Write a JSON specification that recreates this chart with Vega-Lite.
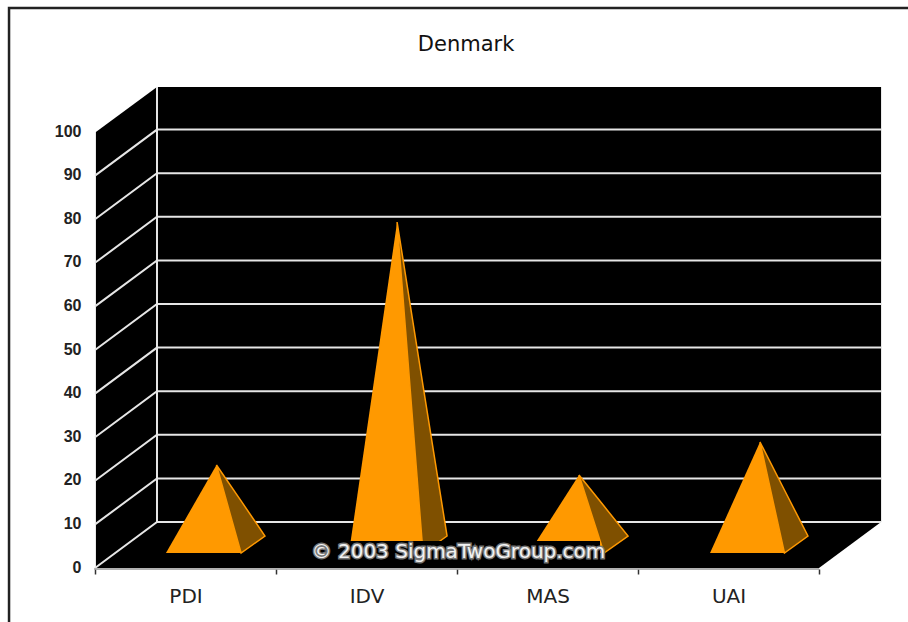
{
"$schema":"https://vega.github.io/schema/vega-lite/v6.json",
"width":908,"height":622,"padding":0,
"autosize":"none",
"background":"white",
"config":{"view":{"stroke":null}},
"layer":[
{"data":{"values":[{"x":0.005,"top":100,"bottom":0},{"x":0.3425,"top":110.3,"bottom":0},{"x":4.0,"top":110.3,"bottom":0},{"x":4.343,"top":110.3,"bottom":10.55}]},
 "mark":{"type":"area","color":"black"},
 "encoding":{
  "x":{"field":"x","type":"quantitative","scale":{"domain":[-0.5249,4.4917],"nice":false,"zero":false},
    "axis":{"title":null,"orient":"bottom","offset":-53,"values":[0,1,2,3,4],"grid":false,"domain":false,"ticks":true,"tickSize":5,"tickColor":"#333","tickWidth":1.5,
      "labelOffset":90.5,"labelPadding":12,"labelFont":"DejaVu Sans","labelFontSize":20,"labelColor":"#222","labelAlign":"center","labelOverlap":false,"labelBound":false,"labelFlush":false,
      "labelExpr":"datum.value==0?'PDI':datum.value==1?'IDV':datum.value==2?'MAS':datum.value==3?'UAI':''"}},
  "y":{"field":"top","type":"quantitative","scale":{"domain":[-12.385,130.28],"nice":false,"zero":false},
    "axis":{"title":null,"orient":"left","offset":-95,"values":[0,10,20,30,40,50,60,70,80,90,100],"grid":false,"domain":false,"ticks":false,"labelPadding":14,"labelOffset":-1,"labelFont":"Liberation Sans","labelFontWeight":"bold","labelFontSize":16,"labelColor":"#222"}},
  "y2":{"field":"bottom"}}},
{"data":{"values":[
 {"g":"v0","i":0,"x":0,"y":0},{"g":"v0","i":1,"x":0.3425,"y":10.55},{"g":"v0","i":2,"x":4.343,"y":10.55},
 {"g":"v10","i":0,"x":0,"y":10},{"g":"v10","i":1,"x":0.3425,"y":20.55},{"g":"v10","i":2,"x":4.343,"y":20.55},
 {"g":"v20","i":0,"x":0,"y":20},{"g":"v20","i":1,"x":0.3425,"y":30.55},{"g":"v20","i":2,"x":4.343,"y":30.55},
 {"g":"v30","i":0,"x":0,"y":30},{"g":"v30","i":1,"x":0.3425,"y":40.55},{"g":"v30","i":2,"x":4.343,"y":40.55},
 {"g":"v40","i":0,"x":0,"y":40},{"g":"v40","i":1,"x":0.3425,"y":50.55},{"g":"v40","i":2,"x":4.343,"y":50.55},
 {"g":"v50","i":0,"x":0,"y":50},{"g":"v50","i":1,"x":0.3425,"y":60.55},{"g":"v50","i":2,"x":4.343,"y":60.55},
 {"g":"v60","i":0,"x":0,"y":60},{"g":"v60","i":1,"x":0.3425,"y":70.55},{"g":"v60","i":2,"x":4.343,"y":70.55},
 {"g":"v70","i":0,"x":0,"y":70},{"g":"v70","i":1,"x":0.3425,"y":80.55},{"g":"v70","i":2,"x":4.343,"y":80.55},
 {"g":"v80","i":0,"x":0,"y":80},{"g":"v80","i":1,"x":0.3425,"y":90.55},{"g":"v80","i":2,"x":4.343,"y":90.55},
 {"g":"v90","i":0,"x":0,"y":90},{"g":"v90","i":1,"x":0.3425,"y":100.55},{"g":"v90","i":2,"x":4.343,"y":100.55},
 {"g":"wall","i":0,"x":0.3425,"y":10.55},{"g":"wall","i":1,"x":0.3425,"y":110.3}
 ]},
 "mark":{"type":"line","color":"#e6e6e6","strokeWidth":2},
 "encoding":{"x":{"field":"x","type":"quantitative"},"y":{"field":"y","type":"quantitative"},"detail":{"field":"g"},"order":{"field":"i"}}},
{"data":{"values":[{"g":"axis","i":0,"x":-0.005,"y":-0.25},{"g":"axis","i":1,"x":4.0,"y":-0.25}]},
 "mark":{"type":"line","color":"#999","strokeWidth":1.5},
 "encoding":{"x":{"field":"x","type":"quantitative"},"y":{"field":"y","type":"quantitative"},"detail":{"field":"g"},"order":{"field":"i"}}},
{"data":{"values":[{"g":"frame","i":0,"x":-0.475,"y":-12.385},{"g":"frame","i":1,"x":-0.475,"y":128.44},{"g":"frame","i":2,"x":4.4917,"y":128.44}]},
 "mark":{"type":"line","color":"#222","strokeWidth":2.5},
 "encoding":{"x":{"field":"x","type":"quantitative"},"y":{"field":"y","type":"quantitative"},"detail":{"field":"g"},"order":{"field":"i"}}},
{"data":{"values":[
 {"c":"PDI","x":0.671,"y":23.62,"y2":23.62},{"c":"PDI","x":0.807,"y":15.39,"y2":3.44},{"c":"PDI","x":0.939,"y":7.34,"y2":7.34},
 {"c":"IDV","x":1.669,"y":79.36,"y2":79.36},{"c":"IDV","x":1.812,"y":41.9,"y2":3.44},{"c":"IDV","x":1.945,"y":7.34,"y2":7.34},
 {"c":"MAS","x":2.674,"y":21.33,"y2":21.33},{"c":"MAS","x":2.812,"y":14.2,"y2":3.44},{"c":"MAS","x":2.945,"y":7.34,"y2":7.34},
 {"c":"UAI","x":3.674,"y":28.9,"y2":28.9},{"c":"UAI","x":3.809,"y":17.89,"y2":3.44},{"c":"UAI","x":3.939,"y":7.34,"y2":7.34}
 ]},
 "mark":{"type":"area","color":"#7f5000","stroke":"#ff9900","strokeWidth":1.5},
 "encoding":{"x":{"field":"x","type":"quantitative"},"y":{"field":"y","type":"quantitative"},"y2":{"field":"y2"},"detail":{"field":"c"}}},
{"data":{"values":[
 {"c":"PDI","x":0.392,"y":3.44,"y2":3.44},{"c":"PDI","x":0.671,"y":23.62,"y2":3.44},{"c":"PDI","x":0.807,"y":3.44,"y2":3.44},
 {"c":"IDV","x":1.403,"y":3.44,"y2":3.44},{"c":"IDV","x":1.669,"y":79.36,"y2":3.44},{"c":"IDV","x":1.812,"y":3.44,"y2":3.44},
 {"c":"MAS","x":2.398,"y":3.44,"y2":3.44},{"c":"MAS","x":2.674,"y":21.33,"y2":3.44},{"c":"MAS","x":2.812,"y":3.44,"y2":3.44},
 {"c":"UAI","x":3.398,"y":3.44,"y2":3.44},{"c":"UAI","x":3.674,"y":28.9,"y2":3.44},{"c":"UAI","x":3.809,"y":3.44,"y2":3.44}
 ]},
 "mark":{"type":"area","color":"#ff9900"},
 "encoding":{"x":{"field":"x","type":"quantitative"},"y":{"field":"y","type":"quantitative"},"y2":{"field":"y2"},"detail":{"field":"c"}}},
{"data":{"values":[{"x":1.16,"x2":2.79,"y":6.19,"y2":0.46}]},
 "mark":{"type":"rect","color":"black"},
 "encoding":{"x":{"field":"x","type":"quantitative"},"x2":{"field":"x2"},"y":{"field":"y","type":"quantitative"},"y2":{"field":"y2"}}},
{"data":{"values":[{"x":2.008,"y":3.6,"t":"© 2003 SigmaTwoGroup.com"}]},
 "mark":{"type":"text","font":"DejaVu Sans","fontSize":20,"color":"#666","stroke":"#777","strokeWidth":3,"align":"center","baseline":"middle"},
 "encoding":{"x":{"field":"x","type":"quantitative"},"y":{"field":"y","type":"quantitative"},"text":{"field":"t"}}},
{"data":{"values":[{"x":2.008,"y":3.6,"t":"© 2003 SigmaTwoGroup.com"}]},
 "mark":{"type":"text","font":"DejaVu Sans","fontSize":20,"color":"#f2f2f2","align":"center","baseline":"middle"},
 "encoding":{"x":{"field":"x","type":"quantitative"},"y":{"field":"y","type":"quantitative"},"text":{"field":"t"}}},
{"data":{"values":[{"x":2.05,"y":120,"t":"Denmark"}]},
 "mark":{"type":"text","font":"DejaVu Sans","fontSize":21,"color":"#111","align":"center","baseline":"middle"},
 "encoding":{"x":{"field":"x","type":"quantitative"},"y":{"field":"y","type":"quantitative"},"text":{"field":"t"}}}
]}
